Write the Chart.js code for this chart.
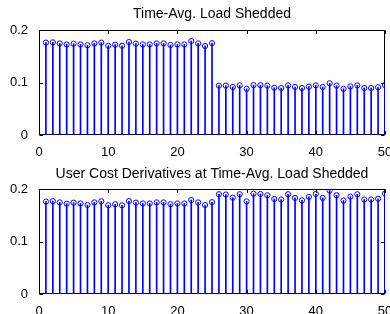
<!DOCTYPE html>
<html>
<head>
<meta charset="utf-8">
<script src="https://cdn.jsdelivr.net/npm/chart.js@4/dist/chart.umd.min.js"></script>
<style>
  html, body { margin: 0; padding: 0; background: #fff; }
  #wrap { position: relative; width: 390px; height: 314px; overflow: hidden; }
  .box { position: absolute; left: 0; width: 390px; height: 157px; }
</style>
</head>
<body>
<div id="wrap">
  <div class="box" style="top:0"><canvas id="c1" width="390" height="157"></canvas></div>
  <div class="box" style="top:157px"><canvas id="c2" width="390" height="157"></canvas></div>
</div>
<script>
// ---- data ----
const sampleIndex = [1,2,3,4,5,6,7,8,9,10,11,12,13,14,15,16,17,18,19,20,21,22,23,24,25,
                     26,27,28,29,30,31,32,33,34,35,36,37,38,39,40,41,42,43,44,45,46,47,48,49,50];
const loadShedded = [0.176,0.1765,0.1745,0.1725,0.174,0.1725,0.171,0.1745,0.176,0.170,
                     0.172,0.170,0.177,0.174,0.1725,0.1725,0.1745,0.1745,0.1715,0.1725,
                     0.1725,0.179,0.1745,0.1695,0.175,
                     0.094,0.094,0.0915,0.0945,0.088,0.095,0.095,0.094,0.090,0.0895,
                     0.0945,0.0915,0.0895,0.092,0.0945,0.0915,0.0985,0.094,0.088,0.0925,
                     0.0945,0.0895,0.0895,0.091,0.095];
const costDerivatives = [0.176,0.177,0.1745,0.172,0.174,0.1725,0.1695,0.1745,0.1765,0.169,
                         0.171,0.169,0.177,0.174,0.1725,0.1725,0.1745,0.1745,0.171,0.1725,
                         0.1725,0.179,0.1745,0.1695,0.175,
                         0.190,0.1895,0.1835,0.190,0.1765,0.191,0.1905,0.188,0.181,0.180,
                         0.190,0.183,0.1785,0.185,0.1905,0.183,0.197,0.188,0.178,0.1855,
                         0.190,0.180,0.180,0.1815,0.191];
const xTicks = [0,10,20,30,40,50];
const yTicks = [0,0.1,0.2];
const titles = ['Time-Avg. Load Shedded', 'User Cost Derivatives at Time-Avg. Load Shedded'];

const FONT = 'Liberation Sans, Arial, Helvetica, sans-serif';
const BLUE = '#0000ff';

const frame = {
  id: 'frame',
  beforeDatasetsDraw(chart) {
    const {ctx, chartArea: a, scales: {x, y}} = chart;
    ctx.save();
    ctx.strokeStyle = '#000';
    ctx.lineWidth = 1;
    const L = Math.round(a.left) + 0.5, R = Math.round(a.right) - 0.5;
    const T = Math.round(a.top) + 0.5, B = Math.round(a.bottom) - 0.5;
    ctx.strokeRect(L, T, R - L, B - T);
    const tl = 3.5;
    ctx.beginPath();
    xTicks.forEach(v => {
      const px = Math.round(x.getPixelForValue(v)) + 0.5;
      ctx.moveTo(px, T); ctx.lineTo(px, T + tl);
      ctx.moveTo(px, B); ctx.lineTo(px, B - tl);
    });
    yTicks.forEach(v => {
      const py = Math.round(y.getPixelForValue(v)) + 0.5;
      ctx.moveTo(L, py); ctx.lineTo(L + tl, py);
      ctx.moveTo(R, py); ctx.lineTo(R - tl, py);
    });
    ctx.stroke();
    ctx.restore();
  }
};

function makeChart(id, values, title, titlePad, xAxisH) {
  const pts = sampleIndex.map((s, i) => ({x: s, y: values[i]}));
  return new Chart(document.getElementById(id), {
    type: 'bar',
    data: {
      datasets: [
        { type: 'bar', data: pts, backgroundColor: BLUE, borderWidth: 0,
          barThickness: 1, order: 2 },
        { type: 'scatter', data: pts, showLine: false, pointRadius: 2.6,
          pointBorderWidth: 1, pointBorderColor: BLUE,
          pointBackgroundColor: 'rgba(0,0,0,0)', order: 1 }
      ]
    },
    options: {
      responsive: false,
      animation: false,
      devicePixelRatio: 1,
      layout: { padding: { left: 0, right: 3, top: 0, bottom: 0 } },
      plugins: {
        legend: { display: false },
        tooltip: { enabled: false },
        title: { display: true, text: title, fullSize: false, color: '#000',
                 font: { family: FONT, size: 14, weight: 'normal' },
                 padding: titlePad }
      },
      scales: {
        x: {
          type: 'linear', min: 0, max: 50, offset: false,
          grid: { display: false }, border: { display: false },
          afterBuildTicks(s) { s.ticks = xTicks.map(v => ({value: v})); },
          ticks: { color: '#000', font: { family: FONT, size: 13 }, padding: 2,
                   maxRotation: 0, autoSkip: false },
          afterFit(s) { s.height = xAxisH; s.paddingLeft = 0; s.paddingRight = 0; }
        },
        y: {
          min: 0, max: 0.2,
          grid: { display: false }, border: { display: false },
          afterBuildTicks(s) { s.ticks = yTicks.map(v => ({value: v})); },
          ticks: { color: '#000', font: { family: FONT, size: 13 }, padding: 3,
                   callback: v => v === 0 ? '0' : v.toFixed(1) },
          afterFit(s) { s.width = 39; }
        }
      }
    },
    plugins: [frame]
  });
}

makeChart('c1', loadShedded, titles[0], { top: 5.6, bottom: 7.6 }, 22);
makeChart('c2', costDerivatives, titles[1], { top: 8.4, bottom: 6.8 }, 20);
</script>
</body>
</html>
